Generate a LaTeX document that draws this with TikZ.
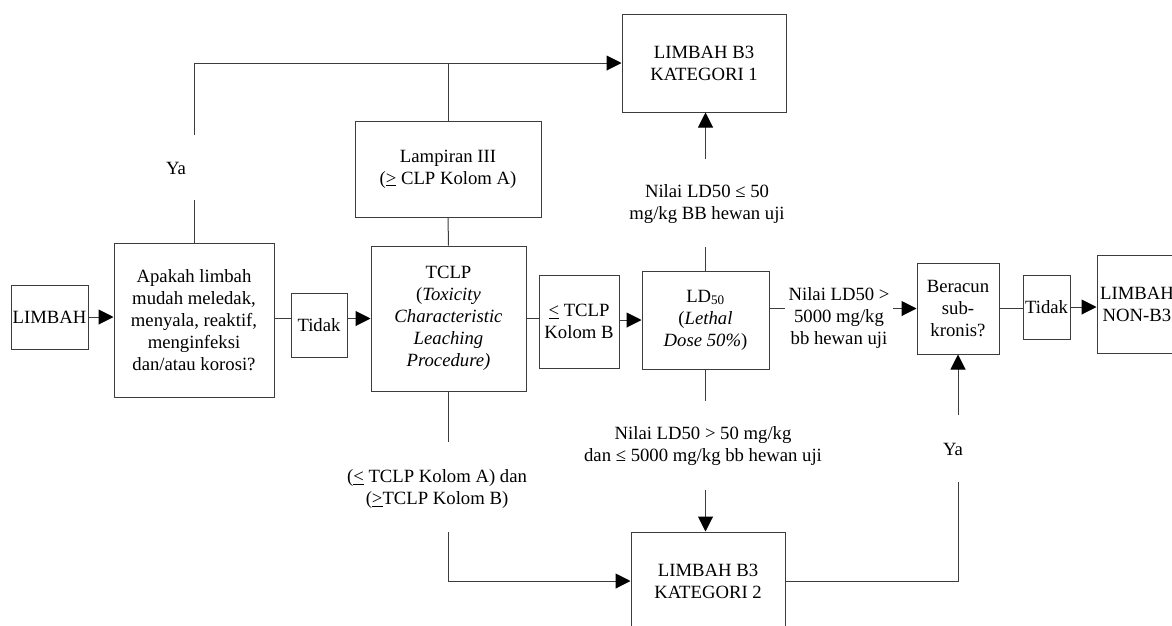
\documentclass[tikz,border=0pt]{standalone}
\usepackage{fontspec}
\setmainfont{Liberation Serif}
\usetikzlibrary{arrows.meta}
\definecolor{ink}{HTML}{3C3C3C}

\begin{document}
\begin{tikzpicture}[x=1pt,y=-1pt,
 font=\fontsize{18.7}{21.9}\selectfont,
 box/.style={draw=ink,line width=1pt,align=center,inner sep=0pt},
 lbl/.style={align=center,inner sep=0pt},
 ln/.style={draw=ink,line width=1pt},
 arr/.style={ln,-{Triangle[length=15pt,width=15pt,color=black]}}]
\useasboundingbox (0,0) rectangle (1172,625);
% kotak utama
\node[box,minimum width=77,minimum height=64] (lb) at (49.5,317) {LIMBAH};
\node[box,minimum width=160,minimum height=154] (q) at (194,320)
 {Apakah limbah\\mudah meledak,\\menyala, reaktif,\\menginfeksi\\dan/atau korosi?};
\node[box,minimum width=56,minimum height=64] (t1) at (319,325) {Tidak};
\node[box,minimum width=155,minimum height=145] (tclp) at (448.5,318.5)
 {TCLP\\(\textit{Toxicity}\\\textit{Characteristic}\\\textit{Leaching}\\\textit{Procedure)}};
\node[box,minimum width=80,minimum height=93] (kb) at (579,321.5)
 {\underline{<} TCLP\\Kolom B};
\node[box,minimum width=127,minimum height=98] (ld) at (705.5,320)
 {LD\textsubscript{50}\\(\textit{Lethal}\\\textit{Dose 50\%})};
\node[box,minimum width=82,minimum height=91] (rc) at (958,308.5)
 {Beracun\\sub-\\kronis?};
\node[box,minimum width=47,minimum height=64] (t2) at (1046.5,307) {Tidak};
\node[box,minimum width=80,minimum height=98] (nb) at (1137,304)
 {LIMBAH\\NON-B3};
\node[box,minimum width=186,minimum height=96] (lp) at (448,169)
 {Lampiran III\\(\underline{>} CLP Kolom A)};
\node[box,minimum width=164,minimum height=98] (k1) at (704,63)
 {LIMBAH B3\\KATEGORI 1};
\node[box,minimum width=154,minimum height=98] (k2) at (708,581)
 {LIMBAH B3\\KATEGORI 2};
% label pada garis
\node[lbl] (ya1) at (176,168) {Ya};
\node[lbl] (l1) at (707,204) {Nilai LD50 ≤ 50\\mg/kg BB hewan uji};
\node[lbl] (l2) at (703,446) {Nilai LD50 > 50 mg/kg\\dan ≤ 5000 mg/kg bb hewan uji};
\node[lbl] (l3) at (437,489) {(\underline{<} TCLP Kolom A) dan\\(\underline{>}TCLP Kolom B)};
\node[lbl] (l4) at (839,318) {Nilai LD50 >\\5000 mg/kg\\bb hewan uji};
\node[lbl] (ya2) at (953,449) {Ya};
% ujung celah garis
\coordinate (g1) at (194,200); \coordinate (g2) at (194,135);
\coordinate (g3) at (705.5,247); \coordinate (g4) at (705.5,159);
\coordinate (g5) at (705.5,401); \coordinate (g6) at (705.5,490);
\coordinate (g7) at (448.5,442); \coordinate (g8) at (448.5,532);
\coordinate (g9) at (785,308.5); \coordinate (g10) at (893,308.5);
\coordinate (g11) at (958,482); \coordinate (g12) at (958,415);
% alur
\draw[arr] (lb.east) -- (lb.east -| q.west);
\draw[ln] (q.east |- tclp.west) -- (t1.west |- tclp.west);
\draw[arr] (t1.east |- tclp.west) -- (tclp.west);
\draw[ln] (tclp.east) -- (tclp.east -| kb.west);
\draw[arr] (kb.east |- ld.west) -- (ld.west);
\draw[ln] (q.north) -- (g1);
\draw[arr] (g2) |- (k1.west);
\draw[ln] (lp.north) -- (lp.north |- k1.west);
\draw[ln] (tclp.north) -- (lp.south);
\draw[ln] (tclp.south) -- (g7);
\draw[arr] (g8) |- (k2.west);
\draw[ln] (ld.north) -- (g3);
\draw[arr] (g4) -- (g4 |- k1.south);
\draw[ln] (ld.south) -- (g5);
\draw[arr] (g6) -- (g6 |- k2.north);
\draw[ln] (ld.east |- rc.west) -- (g9);
\draw[arr] (g10) -- (rc.west);
\draw[ln] (k2.east) -| (g11);
\draw[arr] (g12) -- (rc.south);
\draw[ln] (rc.east) -- (rc.east -| t2.west);
\draw[arr] (t2.east) -- (t2.east -| nb.west);
\end{tikzpicture}
\end{document}
